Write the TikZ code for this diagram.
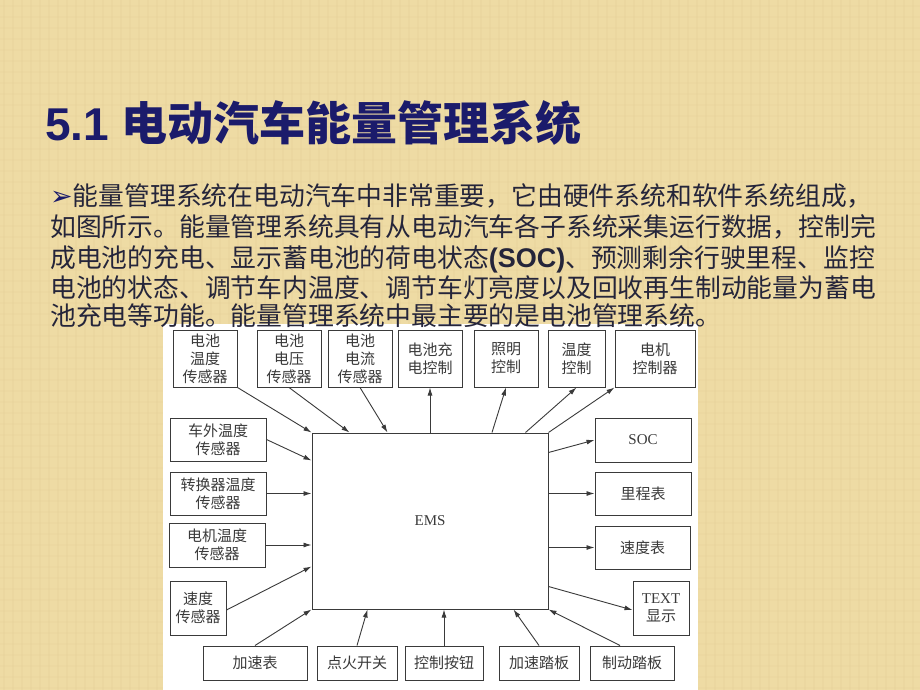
\documentclass[tikz,border=0pt]{standalone}
\usepackage{fontspec}
\setmainfont{Liberation Serif}
\newfontfamily\cjk{Noto Sans CJK SC}
\newfontfamily\headfont{Liberation Sans}
\newfontfamily\dingfont{DejaVu Sans}
\usetikzlibrary{arrows.meta}
\definecolor{paperbg}{HTML}{EEDBA4}
\definecolor{paperline}{HTML}{D6BC84}
\definecolor{navy}{HTML}{1B1B6B}
\definecolor{bodytext}{HTML}{25253A}
\definecolor{linec}{HTML}{3A3A3A}
\tikzset{
  unit/.style={draw=linec, line width=1pt, fill=white, text=linec, inner sep=0pt,
    align=center, font=\cjk\fontsize{15}{18}\selectfont},
  arr/.style={draw=linec, line width=0.9pt, -{Latex[length=8pt,width=5pt]}},
  txtline/.style={anchor=base west, inner sep=0pt, text=bodytext,
    font=\cjk\fontsize{25.8}{30}\selectfont},
  paper/.style={paperline, line width=1.2pt, opacity=0.12}
}
\begin{document}
\begin{tikzpicture}[x=1pt,y=-1pt]
\useasboundingbox (0,0) rectangle (920,690);
\fill[paperbg] (0,0) rectangle (920,690);
\foreach \x in {4,13,...,920} \draw[paper] (\x,0) -- (\x,690);
\foreach \y in {6,17,...,690} \draw[paper,opacity=0.07] (0,\y) -- (920,\y);
\fill[white] (163,324) rectangle (698,690);
% title
\node (title) [anchor=base west, inner sep=0pt, text=navy] at (45,140)
  {\headfont\bfseries\fontsize{46}{50}\selectfont 5.1 {\cjk\bfseries 电动汽车能量管理系统}};
% text
\node (l1) [txtline] at (50,205) {{\dingfont\bfseries\color{navy}\fontsize{27}{28}\selectfont ➢}能量管理系统在电动汽车中非常重要，它由硬件系统和软件系统组成，};
\node (l2) [txtline] at (50,236) {如图所示。能量管理系统具有从电动汽车各子系统采集运行数据，控制完};
\node (l3) [txtline] at (50,267) {成电池的充电、显示蓄电池的荷电状态{\headfont\bfseries\fontsize{27}{30}\selectfont (SOC)}、预测剩余行驶里程、监控};
\node (l4) [txtline] at (50,297) {电池的状态、调节车内温度、调节车灯亮度以及回收再生制动能量为蓄电};
\node (l5) [txtline] at (50,325) {池充电等功能。能量管理系统中最主要的是电池管理系统。};
% figure
\node (ems) [unit, minimum width=236pt, minimum height=176pt, font=\fontsize{15}{18}\selectfont] at (430,521) {EMS};
\node (bt) [unit, minimum width=64pt, minimum height=57pt] at (205,358.5) {电池\\温度\\传感器};
\node (bv) [unit, minimum width=64pt, minimum height=57pt] at (289,358.5) {电池\\电压\\传感器};
\node (bc) [unit, minimum width=64pt, minimum height=57pt] at (360,358.5) {电池\\电流\\传感器};
\node (chg) [unit, minimum width=64pt, minimum height=57pt] at (430,358.5) {电池充\\电控制};
\node (light) [unit, minimum width=64pt, minimum height=57pt] at (506,358.5) {照明\\控制};
\node (tctl) [unit, minimum width=57pt, minimum height=57pt] at (576.5,358.5) {温度\\控制};
\node (mctl) [unit, minimum width=80pt, minimum height=57pt] at (655,358.5) {电机\\控制器};
\node (outT) [unit, minimum width=96pt, minimum height=43pt] at (218,439.5) {车外温度\\传感器};
\node (convT) [unit, minimum width=96pt, minimum height=43pt] at (218,493.5) {转换器温度\\传感器};
\node (motT) [unit, minimum width=96pt, minimum height=44pt] at (217,545) {电机温度\\传感器};
\node (spdS) [unit, minimum width=56pt, minimum height=54pt] at (198,608) {速度\\传感器};
\node (acc) [unit, minimum width=104pt, minimum height=34pt] at (255,663) {加速表};
\node (ign) [unit, minimum width=80pt, minimum height=34pt] at (357,663) {点火开关};
\node (btn) [unit, minimum width=78pt, minimum height=34pt] at (444,663) {控制按钮};
\node (apd) [unit, minimum width=80pt, minimum height=34pt] at (539,663) {加速踏板};
\node (bpd) [unit, minimum width=84pt, minimum height=34pt] at (632,663) {制动踏板};
\node (soc) [unit, minimum width=96pt, minimum height=44pt, font=\fontsize{15}{18}\selectfont] at (643,440) {SOC};
\node (odo) [unit, minimum width=96pt, minimum height=43pt] at (643,493.5) {里程表};
\node (spd) [unit, minimum width=95pt, minimum height=43pt] at (642.5,547.5) {速度表};
\node (txt) [unit, minimum width=56pt, minimum height=54pt] at (661,608) {{\rmfamily TEXT}\\显示};
% sensors -> EMS
\draw[arr] (bt.south east) -- (ems.north west);
\draw[arr] (bv.south) -- ([xshift=38pt]ems.north west);
\draw[arr] (bc.south) -- ([xshift=76pt]ems.north west);
\draw[arr] (outT.east) -- ([yshift=-28pt]ems.north west);
\draw[arr] (convT.east) -- (convT.east -| ems.west);
\draw[arr] (motT.east) -- (motT.east -| ems.west);
\draw[arr] ([yshift=-2pt]spdS.east) -- ([yshift=43pt]ems.south west);
\draw[arr] (acc.north) -- (ems.south west);
\draw[arr] (ign.north) -- ([xshift=56pt]ems.south west);
\draw[arr] (btn.north) -- (btn.north |- ems.south);
\draw[arr] (apd.north) -- ([xshift=-35pt]ems.south east);
\draw[arr] ([xshift=-12pt]bpd.north) -- (ems.south east);
% EMS -> outputs
\draw[arr] (ems.north) -- (chg.south);
\draw[arr] ([xshift=62pt]ems.north) -- (light.south);
\draw[arr] ([xshift=-23pt]ems.north east) -- (tctl.south);
\draw[arr] (ems.north east) -- (mctl.south west);
\draw[arr] ([yshift=-20pt]ems.north east) -- (soc.west);
\draw[arr] (odo.west -| ems.east) -- (odo.west);
\draw[arr] (spd.west -| ems.east) -- (spd.west);
\draw[arr] ([yshift=23pt]ems.south east) -- ([yshift=-2pt]txt.west);
\end{tikzpicture}
\end{document}
